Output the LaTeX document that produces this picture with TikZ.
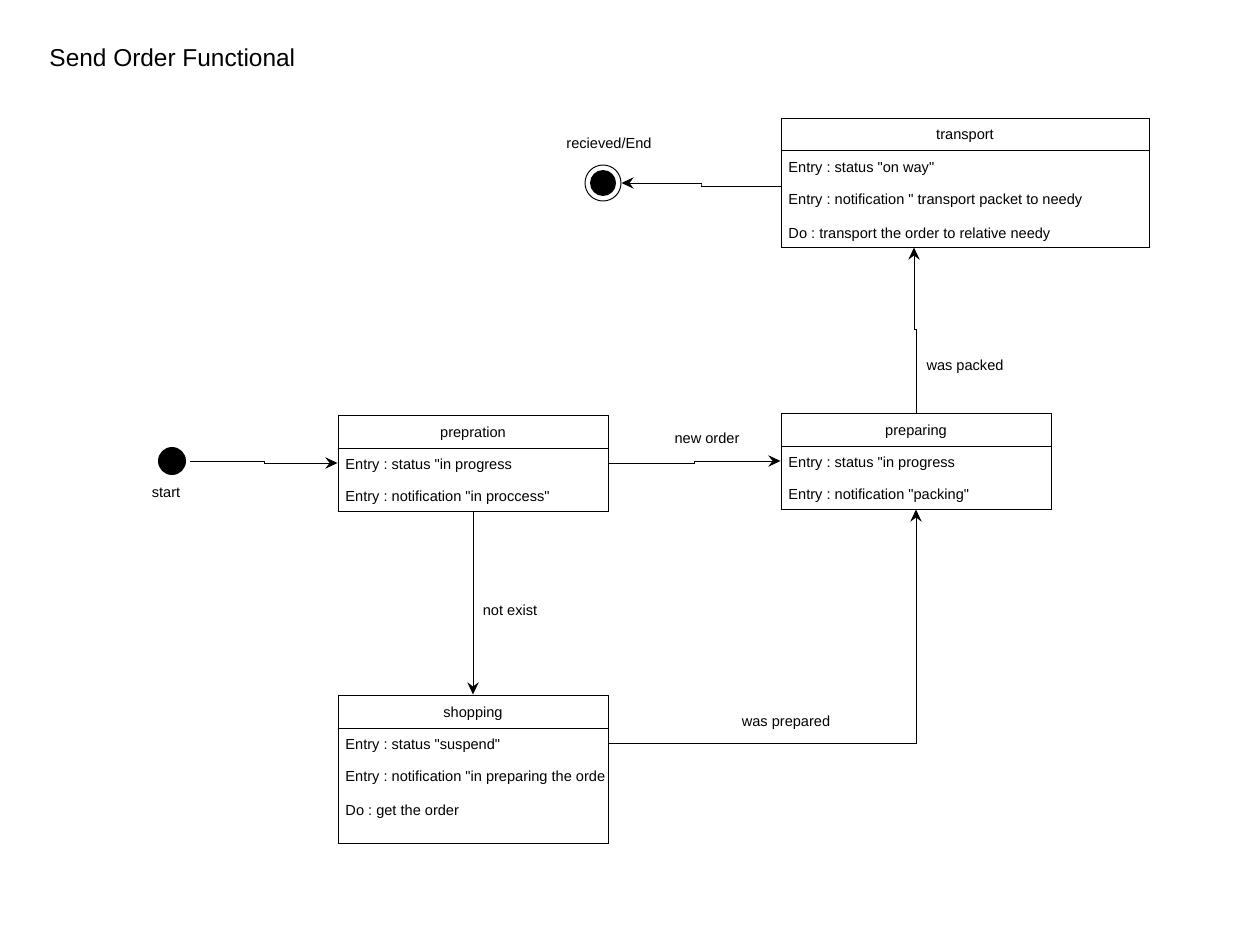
\documentclass[tikz,border=0pt]{standalone}
\usepackage{fontspec}
\setmainfont{Liberation Sans}[Ligatures=TeXOff]
\usetikzlibrary{arrows.meta,calc,fit}
\frenchspacing
\begin{document}
\begin{tikzpicture}[x=0.02cm,y=-0.02cm,line width=0.55pt,
  txt/.style={font=\fontsize{8.3}{10}\selectfont,inner sep=0pt,yshift=-1.1pt},
  row/.style={txt,anchor=west},
  title/.style={font=\fontsize{13.9}{16}\selectfont,inner sep=0pt,anchor=west},
  statebox/.style={draw,inner sep=0pt,fit={#1}},
  arr/.style={-{Stealth[length=7pt,width=6.5pt,inset=2.5pt]}}]
\useasboundingbox (0,0) rectangle (1250,939);

\node[title] (ttl) at (49,58) {Send Order Functional};

% initial and final pseudo-states
\node[circle,fill=black,inner sep=0pt,minimum size=0.56cm] (start) at (172,461) {};
\node[txt] (startL) at (166,491) {start};
\node[circle,draw,inner sep=0pt,minimum size=0.72cm] (end) at (603,183) {};
\node[circle,fill=black,inner sep=0pt,minimum size=0.52cm] (endDot) at (603,183) {};
\node[txt] (endL) at (609,141) {recieved/End};

% transport
\node[statebox={(781,118) (1149,247)}] (trans) {};
\draw (781,150) -- (1149,150);
\node[txt] (transH) at (965,134) {transport};
\node[row] (transA) at (788,167) {Entry : status "on way"};
\node[row] (transB) at (788,199) {Entry : notification " transport packet to needy};
\node[row] (transC) at (788,233) {Do : transport the order to relative needy};

% prepration
\node[statebox={(338,415) (608,511)}] (prep) {};
\draw (338,448) -- (608,448);
\node[txt] (prepH) at (473,432) {prepration};
\node[row] (prepA) at (345,464) {Entry : status "in progress};
\node[row] (prepB) at (345,496) {Entry : notification "in proccess"};

% preparing
\node[statebox={(781,413) (1051,509)}] (prepg) {};
\draw (781,446) -- (1051,446);
\node[txt] (prepgH) at (916,430) {preparing};
\node[row] (prepgA) at (788,462) {Entry : status "in progress};
\node[row] (prepgB) at (788,494) {Entry : notification "packing"};

% shopping
\node[statebox={(338,695) (608,843)}] (shop) {};
\draw (338,728) -- (608,728);
\node[txt] (shopH) at (473,712) {shopping};
\node[row] (shopA) at (345,744) {Entry : status "suspend"};
\begin{scope}
  \clip (338,760) rectangle (604,792);
  \node[row] (shopB) at (345,776) {Entry : notification "in preparing the order"};
\end{scope}
\node[row] (shopC) at (345,810) {Do : get the order};

% transitions
\draw[arr,shorten <=2pt] (start.east) -- ++(78,0) |- (prep.west);
\draw[arr] (prep.east) -| ($(prep.east)!0.5!(prepg.west)$) |- (prepg.west);
\node[txt] (lNew) at (707,436) {new order};
\draw[arr] (prep.south) -- (shop.north);
\node[txt] (lNot) at (510,608) {not exist};
\draw[arr] ($(shop.east)+(0,-26)$) -| (prepg.south);
\node[txt] (lPrep) at (786,721) {was prepared};
\draw[arr] (prepg.north) -- ++(0,-83) -| ($(trans.south)+(-51,0)$);
\node[txt] (lPack) at (965,365) {was packed};
\draw[arr] ($(trans.west)+(0,3.5)$) -| ($(trans.west)!0.5!(end.east)+(0,2)$) |- (end.east);
\end{tikzpicture}
\end{document}
